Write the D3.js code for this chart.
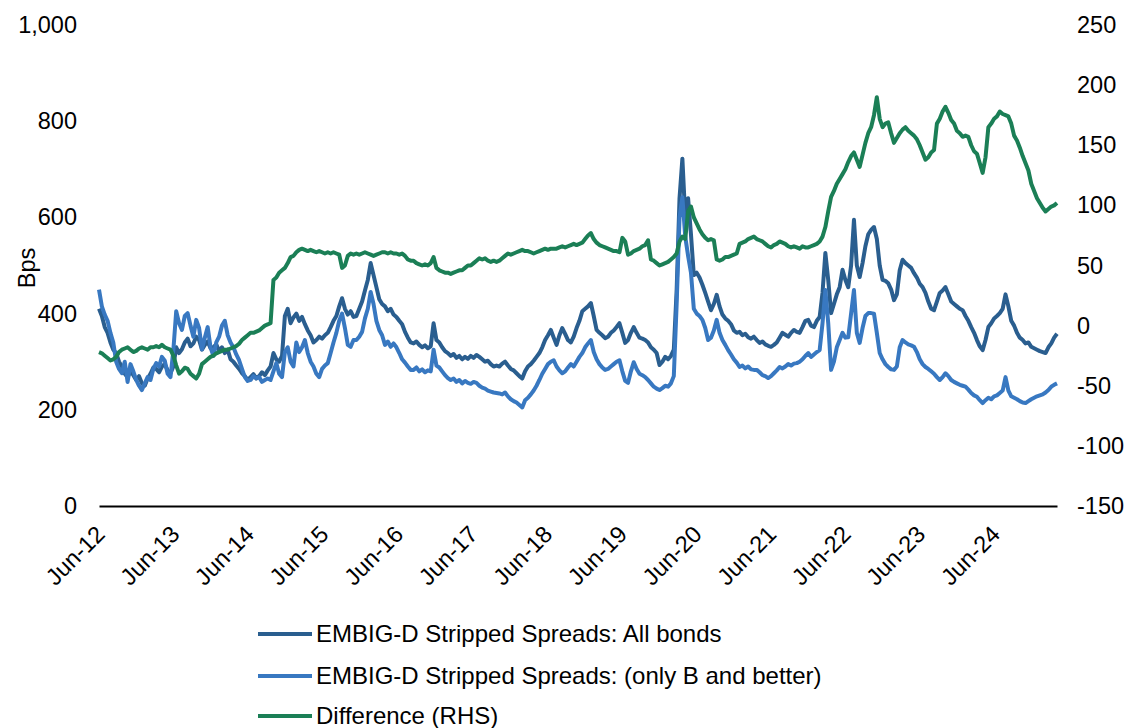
<!DOCTYPE html>
<html>
<head>
<meta charset="utf-8">
<script src="https://cdn.jsdelivr.net/npm/d3@7"></script>
<style>
  body { margin: 0; background: #fff; }
  svg text { font-family: "Liberation Sans", Arial, sans-serif; fill: #000; }
</style>
</head>
<body>
<svg id="chart" width="1127" height="728"></svg>
<script>
// ---- DATA (bi-weekly observations starting Jun 2012) ----
const startDate = new Date(2012, 5, 1);
const stepDays = 14;

const allBonds = [
  410,395,372,360,340,325,318,300,290,275,
  268,280,272,262,270,255,250,265,275,288,
  285,278,290,295,282,276,290,330,318,326,
  340,348,332,338,352,345,325,335,342,328,
  330,336,322,330,318,325,305,300,292,285,
  276,270,262,268,274,265,270,278,272,282,
  290,318,305,300,312,395,410,380,392,400,
  385,393,378,365,355,340,345,352,348,355,
  360,372,385,395,415,432,410,398,405,393,
  395,410,425,448,470,505,480,455,430,420,
  415,405,410,398,393,385,378,362,350,340,
  338,342,335,330,334,328,332,380,345,340,
  330,322,318,312,316,308,312,305,310,306,
  312,308,314,310,305,300,302,295,290,292,
  290,296,300,292,285,282,276,270,265,280,
  290,295,302,310,318,330,345,355,366,350,
  335,355,370,358,345,340,352,370,385,405,
  410,415,422,395,366,360,355,349,352,360,
  365,372,380,360,339,345,360,372,360,350,
  348,345,340,330,325,318,293,300,310,305,
  312,325,450,640,722,600,640,565,480,485,
  475,460,443,425,407,420,439,415,398,390,
  385,378,365,360,362,355,358,351,348,352,
  345,339,342,336,333,331,335,340,350,360,
  356,352,360,366,362,360,372,385,387,375,
  372,385,393,443,526,470,401,420,440,455,
  491,470,455,500,595,500,476,505,540,565,
  574,580,555,500,470,468,463,450,428,440,
  490,512,505,500,495,484,475,462,455,443,
  425,410,407,425,443,448,455,440,425,420,
  415,410,407,395,385,372,360,345,332,324,
  345,372,380,390,395,401,410,440,415,385,
  375,360,350,345,338,340,331,328,325,322,
  320,318,330,338,350,358
];

const bAndBetter = [
  450,415,398,385,360,340,300,285,276,300,
  258,295,280,262,250,241,255,268,262,285,
  297,290,310,302,275,268,324,405,380,366,
  395,401,375,352,387,370,326,350,372,330,
  312,340,352,375,385,355,340,330,315,303,
  285,268,260,262,270,266,268,258,262,265,
  262,280,297,275,268,320,330,300,290,340,
  320,330,345,318,300,290,275,268,285,292,
  297,318,340,360,385,400,370,335,331,345,
  345,352,362,390,410,445,420,385,366,355,
  335,342,331,338,330,318,305,298,290,283,
  283,288,280,284,278,282,280,325,292,288,
  280,272,266,262,265,258,262,255,260,256,
  254,258,256,250,246,244,240,238,236,235,
  234,232,236,228,222,218,215,210,205,220,
  225,232,240,250,262,275,285,295,300,303,
  290,282,276,280,288,295,290,300,310,318,
  330,338,345,320,305,295,288,283,285,290,
  295,300,303,280,260,256,280,299,285,275,
  272,268,262,255,248,244,241,245,250,248,
  255,270,420,600,642,560,520,485,410,400,
  395,387,370,345,350,365,387,360,345,335,
  324,315,305,298,289,292,286,290,284,283,
  283,278,272,270,266,270,276,282,289,286,
  290,295,292,296,297,300,305,312,318,310,
  315,320,324,380,449,380,283,300,330,345,
  360,350,351,400,449,360,339,370,395,401,
  401,400,360,318,305,295,289,284,283,290,
  330,345,340,336,334,331,320,305,295,289,
  285,280,275,268,262,268,276,270,262,258,
  255,252,250,248,242,235,230,227,220,214,
  220,225,222,228,230,235,240,268,240,228,
  225,222,218,215,214,218,222,225,228,230,
  232,236,241,248,252,255
];

const difference = [
  -22,-23,-25,-27,-29,-28,-26,-22,-20,-19,
  -18,-20,-22,-21,-19,-18,-19,-20,-18,-18,
  -17,-18,-16,-18,-19,-20,-25,-33,-40,-38,
  -35,-36,-40,-42,-44,-40,-32,-30,-28,-26,
  -25,-23,-22,-21,-20,-20,-19,-18,-17,-15,
  -12,-10,-8,-6,-6,-5,-4,-2,0,1,
  2,38,40,44,46,48,52,57,58,61,
  63,64,63,62,63,62,61,62,61,60,
  61,60,61,60,59,48,50,58,60,59,
  60,59,60,61,60,59,58,59,60,61,
  61,60,61,60,60,59,60,58,55,54,
  54,52,51,50,51,50,52,57,48,46,
  45,44,44,43,44,45,46,46,48,50,
  50,52,54,56,55,56,54,53,54,53,
  54,56,58,60,59,60,61,62,63,62,
  62,61,60,61,62,63,64,63,64,64,
  64,65,66,65,66,67,68,67,68,69,
  72,75,77,72,69,67,66,65,64,63,
  62,62,61,73,70,59,60,62,63,64,
  66,67,71,55,54,52,50,51,52,53,
  55,57,60,70,74,72,95,99,90,85,
  80,76,73,71,72,71,55,54,55,57,
  57,58,59,60,68,69,70,72,73,74,
  72,71,70,68,66,65,67,68,70,69,
  68,66,65,66,65,64,66,65,65,66,
  67,68,70,74,82,95,107,112,118,122,
  126,130,136,141,144,138,132,142,152,160,
  165,175,190,172,165,168,169,160,152,156,
  160,163,165,162,160,158,155,150,144,138,
  140,144,146,168,172,178,182,177,171,168,
  162,160,157,158,157,150,145,143,135,127,
  140,165,168,172,174,178,176,175,174,168,
  158,154,148,141,135,129,118,112,106,102,
  98,95,97,99,100,102
];

const leftTicks = [0, 200, 400, 600, 800, 1000];
const rightTicks = [-150, -100, -50, 0, 50, 100, 150, 200, 250];
const xTickYears = [2012,2013,2014,2015,2016,2017,2018,2019,2020,2021,2022,2023,2024];

const seriesNames = [
  "EMBIG-D Stripped Spreads: All bonds",
  "EMBIG-D Stripped Spreads: (only B and better)",
  "Difference (RHS)"
];
const colors = ["#2A5E8F", "#3878C1", "#1B7F56"];

// ---- BUILD ----
const dates = allBonds.map((_, i) => d3.timeDay.offset(startDate, i * stepDays));
const xTicks = xTickYears.map(y => new Date(y, 5, 1));

const svg = d3.select("#chart");
const x = d3.scaleTime().domain([startDate, dates[dates.length - 1]]).range([99, 1057]);
const yL = d3.scaleLinear().domain([0, 1000]).range([506, 25]);
const yR = d3.scaleLinear().domain([-150, 250]).range([506, 25]);

const fontSize = 23.5;
const ff = '"Liberation Sans", Arial, sans-serif';

// left axis
const gL = svg.append("g").attr("transform", "translate(98,0)")
  .call(d3.axisLeft(yL).tickValues(leftTicks).tickSize(0).tickPadding(21).tickFormat(d3.format(",")));
gL.select(".domain").remove();
gL.selectAll("text").style("font-size", fontSize + "px").style("font-family", ff).attr("fill", "#000");

// right axis (plain hyphen-minus)
const gR = svg.append("g").attr("transform", "translate(1057,0)")
  .call(d3.axisRight(yR).tickValues(rightTicks).tickSize(0).tickPadding(20).tickFormat(d => String(d)));
gR.select(".domain").remove();
gR.selectAll("text").style("font-size", fontSize + "px").style("font-family", ff).attr("fill", "#000");

// bottom axis
const gX = svg.append("g").attr("transform", "translate(0,506)")
  .call(d3.axisBottom(x).tickValues(xTicks).tickSize(0).tickSizeOuter(0).tickFormat(d3.timeFormat("%b-%y")));
gX.select(".domain").attr("stroke", "#000").attr("stroke-width", 2);
gX.selectAll("text")
  .style("font-size", fontSize + "px").style("font-family", ff)
  .attr("fill", "#000")
  .attr("text-anchor", "end")
  .attr("y", 0).attr("dy", "0.35em")
  .attr("transform", "translate(1,24) rotate(-45)");

// y label
svg.append("text")
  .attr("transform", "translate(27,268) rotate(-90)")
  .attr("text-anchor", "middle").attr("dy", "0.35em")
  .style("font-size", fontSize + "px")
  .text("Bps");

// lines
const lineL = d3.line().x((d, i) => x(dates[i])).y(d => yL(d));
const lineR = d3.line().x((d, i) => x(dates[i])).y(d => yR(d));

svg.append("path").datum(allBonds).attr("d", lineL)
  .attr("fill", "none").attr("stroke", colors[0]).attr("stroke-width", 4).attr("stroke-linejoin", "round");
svg.append("path").datum(bAndBetter).attr("d", lineL)
  .attr("fill", "none").attr("stroke", colors[1]).attr("stroke-width", 4).attr("stroke-linejoin", "round");
svg.append("path").datum(difference).attr("d", lineR)
  .attr("fill", "none").attr("stroke", colors[2]).attr("stroke-width", 4).attr("stroke-linejoin", "round");

// legend
const legY = [634, 676, 716];
seriesNames.forEach((name, i) => {
  svg.append("line").attr("x1", 258).attr("x2", 312).attr("y1", legY[i]).attr("y2", legY[i])
    .attr("stroke", colors[i]).attr("stroke-width", 4);
  svg.append("text").attr("x", 316).attr("y", legY[i]).attr("dy", "0.35em")
    .style("font-size", "24px").text(name);
});
</script>
</body>
</html>
